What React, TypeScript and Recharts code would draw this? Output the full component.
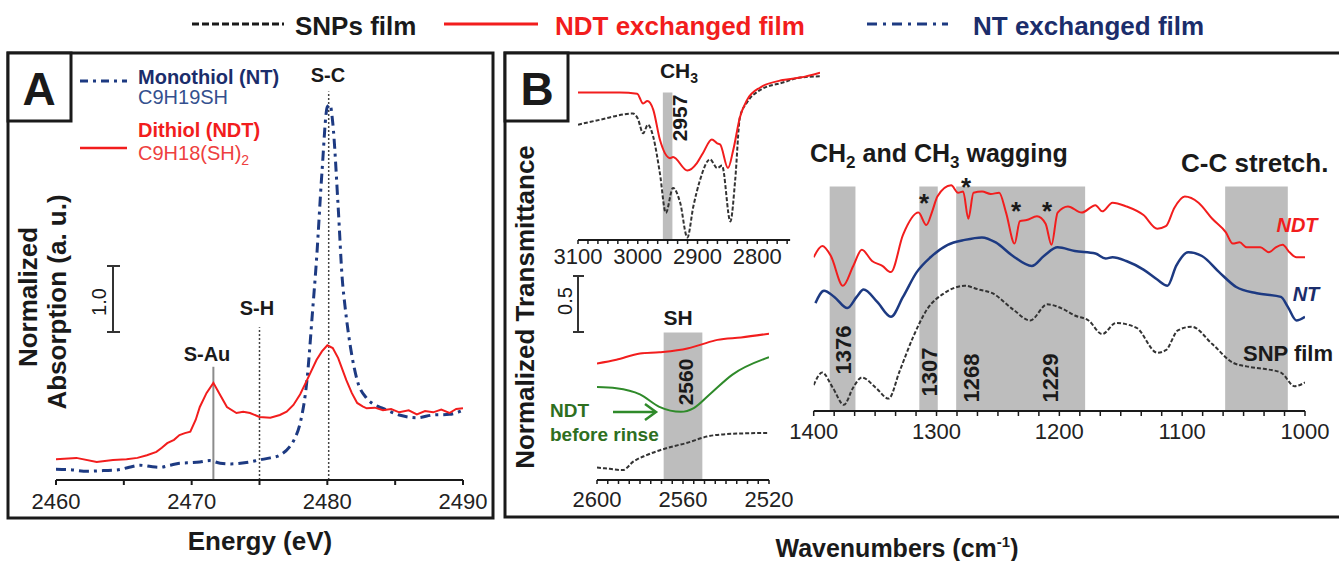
import { LineChart, Line, XAxis, YAxis, ReferenceArea, ReferenceLine } from 'recharts';

const FONT = '"Liberation Sans", Arial, Helvetica, sans-serif';
const RED = '#f21d1d';
const NAVY = '#1d3a82';
const NAVY_TEXT = '#1b2d6b';
const GREEN = '#2f8a2a';
const GREEN_TEXT = '#2e6f1f';
const BAND = '#bdbdbd';
const INK = '#1a1a1a';

// ---------- panel A : S K-edge XANES ----------
const energyTicks = [2460, 2465, 2470, 2475, 2480, 2485, 2490];
const energyLabels = [2460, 2470, 2480, 2490];

const xanesNt: [number, number][] = [
  [2460.0, 0.16], [2461.2, 0.15], [2462.3, 0.13], [2463.5, 0.14], [2464.5, 0.15], [2465.4, 0.19],
  [2466.2, 0.22], [2467.0, 0.2], [2467.7, 0.19], [2468.4, 0.22], [2469.1, 0.25], [2470.0, 0.26],
  [2470.6, 0.27], [2471.3, 0.29], [2472.1, 0.25], [2472.9, 0.24], [2473.6, 0.25], [2474.3, 0.27],
  [2475.0, 0.3], [2475.8, 0.33], [2476.5, 0.37], [2477.2, 0.49], [2477.6, 0.62], [2478.0, 0.85],
  [2478.5, 1.49], [2478.9, 2.49], [2479.2, 3.28], [2479.6, 4.58], [2480.0, 5.57], [2480.2, 5.6],
  [2480.4, 5.33], [2480.8, 4.07], [2481.1, 3.0], [2481.3, 2.6], [2481.7, 1.99], [2482.2, 1.49],
  [2482.9, 1.22], [2483.5, 1.12], [2484.1, 1.07], [2485.3, 0.97], [2486.6, 0.93], [2487.8, 0.97],
  [2489.0, 0.98], [2490.0, 1.04],
];

const xanesNdt: [number, number][] = [
  [2460.0, 0.31], [2461.5, 0.33], [2463.0, 0.27], [2464.2, 0.3], [2465.2, 0.31], [2466.0, 0.33],
  [2466.7, 0.37], [2467.4, 0.42], [2467.8, 0.48], [2468.2, 0.55], [2468.7, 0.6], [2469.1, 0.67],
  [2469.5, 0.7], [2469.9, 0.72], [2470.3, 0.9], [2470.6, 1.09], [2471.1, 1.3], [2471.6, 1.45],
  [2472.1, 1.27], [2472.6, 1.09], [2473.3, 1.0], [2473.8, 1.02], [2474.3, 1.0], [2475.0, 0.94],
  [2475.8, 0.93], [2476.5, 0.97], [2477.0, 1.02], [2477.5, 1.12], [2478.0, 1.28], [2478.5, 1.49],
  [2479.2, 1.79], [2479.6, 1.92], [2480.0, 2.01], [2480.4, 1.97], [2480.8, 1.82], [2481.4, 1.49],
  [2481.8, 1.3], [2482.2, 1.15], [2482.6, 1.1], [2482.9, 1.07], [2483.5, 1.08], [2484.1, 1.04],
  [2484.7, 1.06], [2485.3, 1.01], [2486.0, 1.04], [2486.6, 0.98], [2487.2, 1.03], [2487.8, 1.01],
  [2488.4, 1.05], [2489.0, 1.0], [2489.5, 1.06], [2490.0, 1.07],
];

// S-Au, S-H, S-C marker lines
const peakEnergies = [2471.6, 2475.0, 2480.1];
const peakMarkerTops = [1.69, 2.28, 5.8];

// ---------- panel B : FTIR ----------
// CH3 stretch inset
const ch3Ticks = [3100, 3083.33, 3066.67, 3050, 3033.33, 3016.67, 3000, 2983.33, 2966.67, 2950, 2933.33, 2916.67, 2900, 2883.33, 2866.67, 2850, 2833.33, 2816.67, 2800, 2783.33, 2766.67, 2750];
const ch3Labels = [3100, 3000, 2900, 2800];
const ch3Band = [2942, 2958];

const ch3Ndt: [number, number][] = [
  [3100, 1.19], [3030, 1.19], [3001, 1.18], [2991, 1.1], [2984, 1.12], [2974, 1.05], [2963, 0.81],
  [2946, 0.66], [2941, 0.67], [2917, 0.56], [2901, 0.62], [2891, 0.7], [2876, 0.81], [2867, 0.78],
  [2862, 0.77], [2849, 0.58], [2840, 0.73], [2829, 0.99], [2817, 1.13], [2795, 1.23], [2757, 1.29],
  [2728, 1.31], [2695, 1.35],
];
const ch3Snp: [number, number][] = [
  [3100, 0.93], [3063, 0.97], [3008, 1.02], [3000, 0.98], [2991, 0.86], [2983, 0.93], [2974, 0.83],
  [2963, 0.54], [2953, 0.22], [2941, 0.42], [2929, 0.3], [2917, 0.02], [2907, 0.27], [2896, 0.48],
  [2879, 0.65], [2867, 0.58], [2859, 0.6], [2845, 0.15], [2837, 0.48], [2829, 0.99], [2817, 1.11],
  [2795, 1.21], [2757, 1.27], [2728, 1.31], [2695, 1.32],
];

// S-H stretch inset
const shTicks = [2600, 2595, 2590, 2585, 2580, 2575, 2570, 2565, 2560, 2555, 2550, 2545, 2540, 2535, 2530, 2525, 2520];
const shLabels = [2600, 2560, 2520];
const shBand = [2551, 2569];

const shNdt: [number, number][] = [
  [2600, 0.94], [2591, 0.97], [2580, 1.02], [2571, 1.03], [2558, 1.06], [2552, 1.09], [2544, 1.13],
  [2533, 1.15], [2520, 1.18],
];
const shBeforeRinse: [number, number][] = [
  [2600, 0.75], [2591, 0.74], [2580, 0.69], [2571, 0.59], [2561, 0.55], [2555, 0.58], [2547, 0.7],
  [2537, 0.85], [2520, 0.99],
];
const shSnp: [number, number][] = [
  [2600, 0.1], [2594, 0.09], [2588, 0.08], [2583, 0.15], [2577, 0.2], [2567, 0.26], [2558, 0.3],
  [2549, 0.35], [2540, 0.37], [2520, 0.38],
];

// fingerprint region
const fpLabels = [1400, 1300, 1200, 1100, 1000];
const fpTicks = Array.from({ length: 25 }, (_, i) => Math.round((1000 + (i * 100) / 6) * 100) / 100);
const fpBands: [number, number][] = [[1366, 1387], [1299, 1314], [1179, 1284], [1014, 1065]];
const fpBandTop = 1.81;

const fpNdt: [number, number][] = [
  [1400, 1.24], [1393, 1.33], [1386, 1.25], [1376.2, 1.01], [1367.8, 1.17], [1360.8, 1.3], [1352.5, 1.21],
  [1344.1, 1.17], [1337.1, 1.12], [1327.3, 1.42], [1314.7, 1.6], [1308.3, 1.5], [1303.5, 1.61],
  [1299.3, 1.73], [1288.1, 1.82], [1282.5, 1.76], [1278.3, 1.77], [1274.1, 1.55], [1269.9, 1.76],
  [1262.9, 1.77], [1255.9, 1.75], [1249, 1.76], [1243.4, 1.6], [1236.4, 1.35], [1232.2, 1.53],
  [1226.6, 1.54], [1218.2, 1.57], [1211.2, 1.51], [1206.4, 1.34], [1201.4, 1.6], [1193, 1.65],
  [1181.8, 1.6], [1170.6, 1.66], [1165.1, 1.61], [1156.7, 1.68], [1145.5, 1.65], [1131.5, 1.58],
  [1120.3, 1.47], [1113.3, 1.49], [1106.3, 1.64], [1097.9, 1.73], [1086.7, 1.68], [1075.5, 1.55],
  [1064.4, 1.44], [1058.8, 1.35], [1053.2, 1.36], [1047.6, 1.32], [1042, 1.32], [1036.4, 1.32],
  [1029.4, 1.28], [1023.8, 1.32], [1018.2, 1.34], [1012.6, 1.28], [1007, 1.24], [1000, 1.24],
];
const fpNt: [number, number][] = [
  [1398.6, 0.87], [1391.6, 0.97], [1383.2, 0.92], [1372.6, 0.83], [1365, 0.92], [1359.4, 0.98],
  [1348.3, 0.88], [1337.1, 0.76], [1327.3, 0.92], [1316.1, 1.12], [1304.9, 1.24], [1290.9, 1.34],
  [1277, 1.38], [1263, 1.4], [1251.8, 1.36], [1237.8, 1.25], [1222.4, 1.17], [1212.6, 1.25],
  [1201.4, 1.32], [1187.4, 1.29], [1170.6, 1.27], [1162.3, 1.23], [1156.7, 1.24], [1145.5, 1.21],
  [1131.5, 1.14], [1120.3, 1.06], [1111.9, 1.01], [1104.9, 1.17], [1095.1, 1.28], [1083.9, 1.25],
  [1069.9, 1.12], [1056, 1.0], [1039.2, 0.95], [1019.6, 0.92], [1014, 0.84], [1007, 0.73], [1000, 0.76],
];
const fpSnp: [number, number][] = [
  [1400, 0.21], [1393, 0.31], [1384.6, 0.19], [1375.4, 0.05], [1367.8, 0.19], [1360.8, 0.27],
  [1349.7, 0.19], [1339, 0.1], [1330.1, 0.32], [1318.9, 0.6], [1307.7, 0.82], [1293.7, 0.95],
  [1277, 1.01], [1265.7, 0.98], [1254.6, 0.95], [1237.8, 0.82], [1223.8, 0.73], [1209.8, 0.86],
  [1198.6, 0.83], [1187.4, 0.77], [1176.2, 0.73], [1165.1, 0.62], [1153.9, 0.71], [1137.1, 0.67],
  [1120.3, 0.47], [1113.3, 0.49], [1103.5, 0.65], [1092.3, 0.68], [1075.5, 0.54], [1058.8, 0.39],
  [1047.6, 0.36], [1033.6, 0.34], [1019.6, 0.31], [1008.4, 0.2], [1000, 0.23],
];

const pts = (arr: [number, number][]) => arr.map(([x, v]) => ({ x, v }));

function labelTick(labels: number[], size: number) {
  return (props: any) => {
    const { x, y, payload } = props;
    if (!labels.includes(payload.value)) return <g />;
    return (
      <text x={x} y={y} dy="0.71em" textAnchor="middle" fontSize={size} fill="#222" fontFamily={FONT}>
        {payload.value}
      </text>
    );
  };
}

const axisStyle = { stroke: INK, strokeWidth: 2 };

function Rot({ x, y, size, children, bold = true, fill = INK }: any) {
  return (
    <text
      transform={`translate(${x},${y}) rotate(-90)`}
      textAnchor="middle"
      fontSize={size}
      fontWeight={bold ? 'bold' : 'normal'}
      fill={fill}
      fontFamily={FONT}
    >
      {children}
    </text>
  );
}

function Overlay() {
  return (
    <svg width={1339} height={561} style={{ position: 'absolute', left: 0, top: 0, pointerEvents: 'none' }} fontFamily={FONT}>
      {/* top legend */}
      <line x1={192} x2={284} y1={24} y2={24} stroke={INK} strokeWidth={3} strokeDasharray="7 3" />
      <text x={295} y={35} fontSize={26} fontWeight="bold" fill={INK}>SNPs film</text>
      <line x1={444} x2={538} y1={24} y2={24} stroke={RED} strokeWidth={3} />
      <text x={555} y={35} fontSize={26} fontWeight="bold" fill={RED}>NDT exchanged film</text>
      <line x1={867} x2={948} y1={24} y2={24} stroke={NAVY} strokeWidth={3} strokeDasharray="10 6 3 6" />
      <text x={973} y={35} fontSize={26} fontWeight="bold" fill={NAVY_TEXT}>NT exchanged film</text>

      {/* panel A frame */}
      <rect x={8} y={53} width={485} height={465} fill="none" stroke={INK} strokeWidth={3} />
      <rect x={8} y={53} width={63} height={68} fill="#fff" stroke={INK} strokeWidth={3} />
      <text x={39} y={105} textAnchor="middle" fontSize={46} fontWeight="bold" fill={INK}>A</text>

      <line x1={80} x2={127} y1={81} y2={81} stroke={NAVY} strokeWidth={3} strokeDasharray="8 5 3 5" />
      <text x={138} y={84} fontSize={20} fontWeight="bold" fill={NAVY_TEXT}>Monothiol (NT)</text>
      <text x={138} y={104} fontSize={20} fill="#34508e">C9H19SH</text>
      <text x={138} y={137} fontSize={20} fontWeight="bold" fill={RED}>Dithiol (NDT)</text>
      <line x1={80} x2={127} y1={148} y2={148} stroke={RED} strokeWidth={2.5} />
      <text x={138} y={160} fontSize={20} fill="#ee4040">
        C9H18(SH)<tspan fontSize={14} dy={5}>2</tspan>
      </text>

      <text x={328} y={82} textAnchor="middle" fontSize={20} fontWeight="bold" fill={INK}>S-C</text>
      <text x={257} y={315} textAnchor="middle" fontSize={20} fontWeight="bold" fill={INK}>S-H</text>
      <text x={207} y={361} textAnchor="middle" fontSize={20} fontWeight="bold" fill={INK}>S-Au</text>

      <Rot x={37} y={297} size={26}>Normalized</Rot>
      <Rot x={66} y={302} size={26}>Absorption (a. u.)</Rot>
      <line x1={113} x2={113} y1={266} y2={332} stroke="#333" strokeWidth={2} />
      <line x1={107} x2={120} y1={266} y2={266} stroke="#333" strokeWidth={2} />
      <line x1={107} x2={120} y1={332} y2={332} stroke="#333" strokeWidth={2} />
      <Rot x={106} y={302} size={20} bold={false}>1.0</Rot>
      <text x={260} y={550} textAnchor="middle" fontSize={26} fontWeight="bold" fill={INK}>Energy (eV)</text>

      {/* panel B frame */}
      <rect x={505} y={53} width={850} height={464} fill="none" stroke={INK} strokeWidth={3} />
      <rect x={505} y={53} width={63} height={68} fill="#fff" stroke={INK} strokeWidth={3} />
      <text x={537} y={105} textAnchor="middle" fontSize={46} fontWeight="bold" fill={INK}>B</text>
      <Rot x={534} y={307} size={26}>Normalized Transmittance</Rot>
      <line x1={578} x2={578} y1={276} y2={332} stroke="#333" strokeWidth={2} />
      <line x1={573} x2={584} y1={276} y2={276} stroke="#333" strokeWidth={2} />
      <line x1={573} x2={584} y1={332} y2={332} stroke="#333" strokeWidth={2} />
      <Rot x={572} y={301} size={20} bold={false}>0.5</Rot>

      <text x={679} y={78} textAnchor="middle" fontSize={21} fontWeight="bold" fill={INK}>
        CH<tspan fontSize={14} dy={5}>3</tspan>
      </text>
      <Rot x={687} y={118} size={21}>2957</Rot>
      <text x={678} y={325} textAnchor="middle" fontSize={21} fontWeight="bold" fill={INK}>SH</text>
      <Rot x={693} y={382} size={21}>2560</Rot>

      <text x={550} y={417} fontSize={19} fontWeight="bold" fill={GREEN_TEXT}>NDT</text>
      <text x={550} y={441} fontSize={19} fontWeight="bold" fill={GREEN_TEXT}>before rinse</text>
      <line x1={613} x2={655} y1={412} y2={412} stroke={GREEN} strokeWidth={2.5} />
      <polyline points="645,404 656,412 645,420" fill="none" stroke={GREEN} strokeWidth={2.5} />

      <text x={810} y={162} fontSize={25} fontWeight="bold" fill={INK}>
        CH<tspan fontSize={17} dy={6}>2</tspan>
        <tspan dy={-6}> and CH</tspan>
        <tspan fontSize={17} dy={6}>3</tspan>
        <tspan dy={-6}> wagging</tspan>
      </text>
      <text x={1181} y={172} fontSize={26} fontWeight="bold" fill={INK}>C-C stretch.</text>

      <text x={924} y={212} textAnchor="middle" fontSize={26} fontWeight="bold" fill={INK}>*</text>
      <text x={966} y={196} textAnchor="middle" fontSize={26} fontWeight="bold" fill={INK}>*</text>
      <text x={1016} y={220} textAnchor="middle" fontSize={26} fontWeight="bold" fill={INK}>*</text>
      <text x={1047} y={220} textAnchor="middle" fontSize={26} fontWeight="bold" fill={INK}>*</text>

      <Rot x={851} y={350} size={22}>1376</Rot>
      <Rot x={937} y={372} size={22}>1307</Rot>
      <Rot x={979} y={378} size={22}>1268</Rot>
      <Rot x={1058} y={378} size={22}>1229</Rot>

      <text x={1297} y={232} textAnchor="middle" fontSize={20} fontWeight="bold" fontStyle="italic" fill={RED}>NDT</text>
      <text x={1306} y={301} textAnchor="middle" fontSize={20} fontWeight="bold" fontStyle="italic" fill={NAVY_TEXT}>NT</text>
      <text x={1288} y={361} textAnchor="middle" fontSize={22} fontWeight="bold" fill={INK}>SNP film</text>

      <text x={897} y={557} textAnchor="middle" fontSize={25} fontWeight="bold" fill={INK}>
        Wavenumbers (cm<tspan fontSize={15} dy={-10}>-1</tspan><tspan dy={10}>)</tspan>
      </text>
    </svg>
  );
}

export default function App() {
  return (
    <div style={{ position: 'relative', width: 1339, height: 561, background: '#fff', fontFamily: FONT, overflow: 'hidden' }}>
      <style>{'body{margin:0}'}</style>

      {/* Panel A */}
      <div style={{ position: 'absolute', left: 0, top: 0 }}>
        <LineChart width={500} height={530} margin={{ top: 91.4, right: 37, bottom: 20, left: 56 }}>
          <XAxis
            type="number"
            dataKey="x"
            domain={[2460, 2490]}
            allowDataOverflow
            ticks={energyTicks}
            interval={0}
            height={30}
            tickSize={5}
            tickMargin={8}
            axisLine={axisStyle}
            tickLine={axisStyle}
            tick={labelTick(energyLabels, 22)}
          />
          <YAxis hide type="number" domain={[0, 5.8]} allowDataOverflow />
          <ReferenceLine
            segment={[{ x: peakEnergies[0], y: 0 }, { x: peakEnergies[0], y: peakMarkerTops[0] }]}
            stroke="#8c8c8c"
            strokeWidth={2}
          />
          <ReferenceLine
            segment={[{ x: peakEnergies[1], y: 0 }, { x: peakEnergies[1], y: peakMarkerTops[1] }]}
            stroke="#444"
            strokeWidth={1.5}
            strokeDasharray="2 2"
          />
          <ReferenceLine
            segment={[{ x: peakEnergies[2], y: 0 }, { x: peakEnergies[2], y: peakMarkerTops[2] }]}
            stroke="#444"
            strokeWidth={1.5}
            strokeDasharray="2 2"
          />
          <Line data={pts(xanesNt)} dataKey="v" type="monotone" stroke={NAVY} strokeWidth={3} strokeDasharray="10 5 3 5" dot={false} isAnimationActive={false} />
          <Line data={pts(xanesNdt)} dataKey="v" type="linear" stroke={RED} strokeWidth={2} dot={false} isAnimationActive={false} />
        </LineChart>
      </div>

      {/* Panel B - CH3 inset */}
      <div style={{ position: 'absolute', left: 540, top: 40 }}>
        <LineChart width={300} height={240} margin={{ top: 26.4, right: 20, bottom: 10, left: 38 }}>
          <XAxis
            type="number"
            dataKey="x"
            domain={[2695, 3100]}
            reversed
            allowDataOverflow
            ticks={ch3Ticks}
            interval={0}
            height={30}
            tickSize={4}
            tickMargin={4}
            axisLine={false}
            tickLine={{ stroke: INK, strokeWidth: 1.5 }}
            tick={labelTick(ch3Labels, 22)}
          />
          <YAxis hide type="number" domain={[0, 1.4]} allowDataOverflow />
          <ReferenceArea x1={ch3Band[0]} x2={ch3Band[1]} y1={0} y2={1.19} fill={BAND} fillOpacity={1} stroke="none" />
          <ReferenceLine segment={[{ x: 3100, y: 0 }, { x: 2745, y: 0 }]} stroke={INK} strokeWidth={2} />
          <Line data={pts(ch3Snp)} dataKey="v" type="monotone" stroke="#333" strokeWidth={2} strokeDasharray="4 2" dot={false} isAnimationActive={false} />
          <Line data={pts(ch3Ndt)} dataKey="v" type="monotone" stroke={RED} strokeWidth={2} dot={false} isAnimationActive={false} />
        </LineChart>
      </div>

      {/* Panel B - SH inset */}
      <div style={{ position: 'absolute', left: 560, top: 300 }}>
        <LineChart width={240} height={220} margin={{ top: 25, right: 31, bottom: 10, left: 37 }}>
          <XAxis
            type="number"
            dataKey="x"
            domain={[2520, 2600]}
            reversed
            allowDataOverflow
            ticks={shTicks}
            interval={0}
            height={30}
            tickSize={4}
            tickMargin={7}
            axisLine={axisStyle}
            tickLine={{ stroke: INK, strokeWidth: 1.5 }}
            tick={labelTick(shLabels, 22)}
          />
          <YAxis hide type="number" domain={[0, 1.25]} allowDataOverflow />
          <ReferenceArea x1={shBand[0]} x2={shBand[1]} y1={0} y2={1.19} fill={BAND} fillOpacity={1} stroke="none" />
          <Line data={pts(shSnp)} dataKey="v" type="monotone" stroke="#333" strokeWidth={2} strokeDasharray="4 2" dot={false} isAnimationActive={false} />
          <Line data={pts(shBeforeRinse)} dataKey="v" type="monotone" stroke={GREEN} strokeWidth={2} dot={false} isAnimationActive={false} />
          <Line data={pts(shNdt)} dataKey="v" type="monotone" stroke={RED} strokeWidth={2} dot={false} isAnimationActive={false} />
        </LineChart>
      </div>

      {/* Panel B - fingerprint region */}
      <div style={{ position: 'absolute', left: 760, top: 120 }}>
        <LineChart width={579} height={340} margin={{ top: 43, right: 34, bottom: 19, left: 53.7 }}>
          <XAxis
            type="number"
            dataKey="x"
            domain={[1000, 1400]}
            reversed
            allowDataOverflow
            ticks={fpTicks}
            interval={0}
            height={30}
            tickSize={5}
            tickMargin={7}
            axisLine={axisStyle}
            tickLine={{ stroke: INK, strokeWidth: 1.5 }}
            tick={labelTick(fpLabels, 22)}
          />
          <YAxis hide type="number" domain={[0, 2]} allowDataOverflow />
          {fpBands.map(([a, b], i) => (
            <ReferenceArea key={i} x1={a} x2={b} y1={0} y2={fpBandTop} fill={BAND} fillOpacity={1} stroke="none" />
          ))}
          <Line data={pts(fpSnp)} dataKey="v" type="monotone" stroke="#333" strokeWidth={2} strokeDasharray="4 2" dot={false} isAnimationActive={false} />
          <Line data={pts(fpNt)} dataKey="v" type="monotone" stroke={NAVY} strokeWidth={2.5} dot={false} isAnimationActive={false} />
          <Line data={pts(fpNdt)} dataKey="v" type="monotone" stroke={RED} strokeWidth={2} dot={false} isAnimationActive={false} />
        </LineChart>
      </div>

      <Overlay />
    </div>
  );
}
